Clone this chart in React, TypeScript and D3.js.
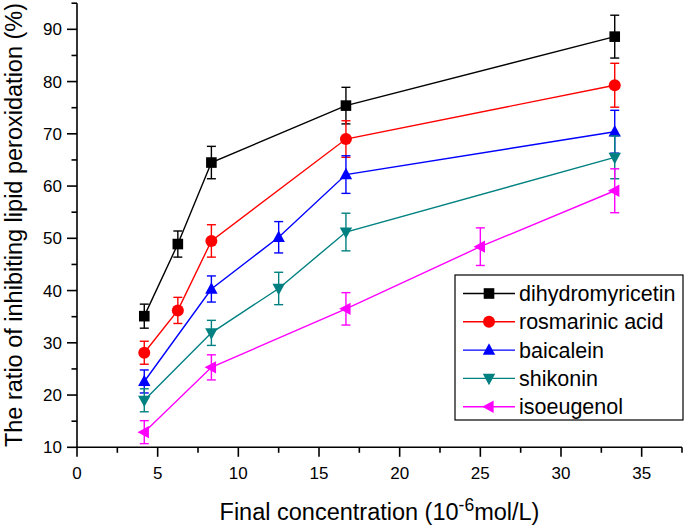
import React from "react";
import * as d3 from "d3";

const seriesNames = ["dihydromyricetin", "rosmarinic acid", "baicalein", "shikonin", "isoeugenol"];
const seriesColors = ["#000000", "#ff0000", "#0000ff", "#008080", "#ff00ff"];
const seriesSymbols = ["square", "circle", "triUp", "triDown", "triLeft"];

const xDihydro = [4.17, 6.25, 8.33, 16.67, 33.33];
const yDihydro = [35.1, 48.9, 64.5, 75.4, 88.6];
const eDihydro = [2.3, 2.5, 3.1, 3.5, 4.1];

const xRosma = [4.17, 6.25, 8.33, 16.67, 33.33];
const yRosma = [28.1, 36.2, 49.5, 69.0, 79.3];
const eRosma = [2.2, 2.5, 3.1, 3.5, 4.2];

const xBaica = [4.17, 8.33, 12.5, 16.67, 33.33];
const yBaica = [22.6, 40.3, 50.2, 62.2, 70.4];
const eBaica = [2.2, 2.5, 3.0, 3.6, 4.1];

const xShiko = [4.17, 8.33, 12.5, 16.67, 33.33];
const yShiko = [19.0, 31.9, 40.4, 51.2, 65.5];
const eShiko = [2.2, 2.4, 3.1, 3.6, 4.1];

const xIso = [4.17, 8.33, 16.67, 25, 33.33];
const yIso = [12.9, 25.3, 36.5, 48.4, 59.1];
const eIso = [2.2, 2.4, 3.1, 3.6, 4.2];

const xTicks = [0, 5, 10, 15, 20, 25, 30, 35];
const yTicks = [10, 20, 30, 40, 50, 60, 70, 80, 90];

const W = 685;
const H = 530;
const font = "'Liberation Sans', Arial, sans-serif";

function Marker({ type, cx, cy, color }: { type: string; cx: number; cy: number; color: string }) {
  const s = 6.2;
  if (type === "square") return <rect x={cx - 5.3} y={cy - 5.3} width={10.6} height={10.6} fill={color} />;
  if (type === "circle") return <circle cx={cx} cy={cy} r={6} fill={color} />;
  let pts: [number, number][] = [];
  if (type === "triUp") pts = [[cx, cy - s * 1.1], [cx - s, cy + s * 0.75], [cx + s, cy + s * 0.75]];
  if (type === "triDown") pts = [[cx, cy + s * 1.1], [cx - s, cy - s * 0.75], [cx + s, cy - s * 0.75]];
  if (type === "triLeft") pts = [[cx - s * 1.1, cy], [cx + s * 0.75, cy - s], [cx + s * 0.75, cy + s]];
  return <polygon points={pts.map((p) => p.join(",")).join(" ")} fill={color} />;
}

export default function App() {
  const x = d3.scaleLinear().domain([0, 37.5]).range([77, 682]);
  const y = d3.scaleLinear().domain([10, 95]).range([447.3, 3.2]);

  const series = [
    { xs: xDihydro, ys: yDihydro, es: eDihydro },
    { xs: xRosma, ys: yRosma, es: eRosma },
    { xs: xBaica, ys: yBaica, es: eBaica },
    { xs: xShiko, ys: yShiko, es: eShiko },
    { xs: xIso, ys: yIso, es: eIso },
  ];

  const line = d3
    .line<[number, number]>()
    .x((d) => x(d[0]))
    .y((d) => y(d[1]));

  const xMinor = d3.range(0, 37.51, 2.5);
  const yMinor = d3.range(10, 95.01, 5);

  const legX = 455;
  const legY = 275;
  const legW = 228;
  const legH = 145;
  const rowY = (i: number) => legY + 18.5 + i * 28.3;

  return (
    <svg width={W} height={H} style={{ position: "absolute", left: 0, top: 0, background: "#fff" }}>
      <rect x={0} y={0} width={W} height={H} fill="#fff" />
      {series.map((s, si) => {
        const color = seriesColors[si];
        const pts: [number, number][] = s.xs.map((xv, i) => [xv, s.ys[i]]);
        return (
          <g key={si}>
            <path d={line(pts) || ""} fill="none" stroke={color} strokeWidth={1.4} />
            {pts.map((p, i) => {
              const cx = x(p[0]);
              const top = y(p[1] + s.es[i]);
              const bot = y(p[1] - s.es[i]);
              return (
                <g key={i} stroke={color} strokeWidth={1.4}>
                  <line x1={cx} x2={cx} y1={top} y2={bot} />
                  <line x1={cx - 4.5} x2={cx + 4.5} y1={top} y2={top} />
                  <line x1={cx - 4.5} x2={cx + 4.5} y1={bot} y2={bot} />
                </g>
              );
            })}
            {pts.map((p, i) => (
              <Marker key={"m" + i} type={seriesSymbols[si]} cx={x(p[0])} cy={y(p[1])} color={color} />
            ))}
          </g>
        );
      })}

      <g stroke="#000" strokeWidth={1.6}>
        <line x1={77} x2={682} y1={447.3} y2={447.3} />
        <line x1={77} x2={77} y1={3.2} y2={447.3} />
        {xMinor.map((t) => {
          const major = xTicks.includes(t);
          return <line key={"xt" + t} x1={x(t)} x2={x(t)} y1={447.3} y2={447.3 + (major ? 9.5 : 5.5)} />;
        })}
        {yMinor.map((t) => {
          const major = yTicks.includes(t);
          return <line key={"yt" + t} x1={77} x2={77 - (major ? 10 : 5.5)} y1={y(t)} y2={y(t)} />;
        })}
      </g>
      <g fontFamily={font} fontSize={17} fill="#000">
        {xTicks.map((t) => (
          <text key={"xl" + t} x={x(t)} y={479} textAnchor="middle">
            {t}
          </text>
        ))}
        {yTicks.map((t) => (
          <text key={"yl" + t} x={62} y={y(t) + 6} textAnchor="end">
            {t}
          </text>
        ))}
      </g>

      <text x={379.5} y={520} textAnchor="middle" fontFamily={font} fontSize={23.5} fill="#000">
        Final concentration (10
        <tspan dy={-9} fontSize={17.5}>-6</tspan>
        <tspan dy={9}>mol/L)</tspan>
      </text>
      <text
        transform="translate(22,225) rotate(-90)"
        textAnchor="middle"
        fontFamily={font}
        fontSize={23.5}
        fill="#000"
      >
        The ratio of inhibiting lipid peroxidation (%)
      </text>

      <rect x={legX} y={legY} width={legW} height={legH} fill="#fff" stroke="#000" strokeWidth={1.2} />
      {seriesNames.map((n, i) => (
        <g key={"lg" + i}>
          <line x1={463} x2={515} y1={rowY(i)} y2={rowY(i)} stroke={seriesColors[i]} strokeWidth={1.4} />
          <Marker type={seriesSymbols[i]} cx={489} cy={rowY(i)} color={seriesColors[i]} />
          <text x={519} y={rowY(i) + 7.5} fontFamily={font} fontSize={21.5} fill="#000">
            {n}
          </text>
        </g>
      ))}
    </svg>
  );
}
